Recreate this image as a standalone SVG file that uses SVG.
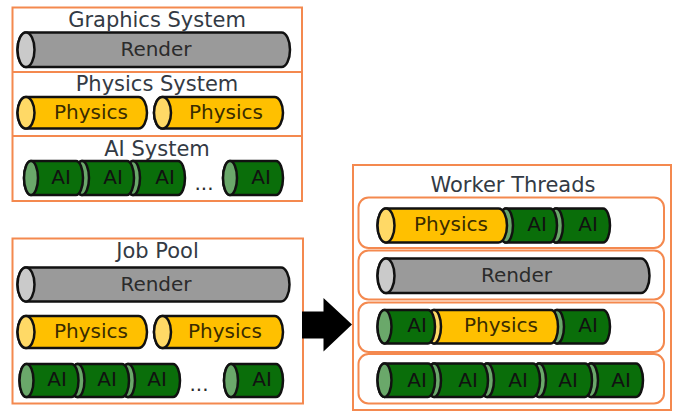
<svg xmlns="http://www.w3.org/2000/svg" width="677" height="416" viewBox="0 0 677 416">
  <style>
    .box { fill: #ffffff; stroke: #f4894f; stroke-width: 2; }
    .div { stroke: #f4894f; stroke-width: 2; }
    .cyl path, .cyl ellipse { stroke: #111111; stroke-width: 2.5; }
    .gray path { fill: #9a9a9a; } .gray ellipse { fill: #cacaca; }
    .gold path { fill: #ffc000; } .gold ellipse { fill: #ffd966; }
    .green path { fill: #0a6e0a; } .green ellipse { fill: #6aa86a; }
    text { font-family: "DejaVu Sans", Verdana, sans-serif; text-anchor: middle; }
    .title { font-size: 21px; fill: #333a44; }
    .lbl { font-size: 20px; fill: #2b2b2b; }
    .gold text { fill: #3a2c00; }
    .green text { fill: #111111; }
  </style>
  <rect width="677" height="416" fill="#ffffff"/>

  <!-- Per-system layout -->
  <g id="systems">
    <rect class="box" x="12.5" y="7.5" width="289.5" height="193.5"/>
    <line class="div" x1="12.5" y1="72" x2="302" y2="72"/>
    <line class="div" x1="12.5" y1="136" x2="302" y2="136"/>
    <text class="title" x="157" y="26.5">Graphics System</text>
    <text class="title" x="157" y="91">Physics System</text>
    <text class="title" x="157" y="156">AI System</text>

    <g id="sys-render" class="cyl gray">
      <path d="M26,32.5 H281.5 A8.5,17.25 0 0 1 281.5,67 H26 A8.5,17.25 0 0 1 26,32.5 Z"/>
      <ellipse cx="26" cy="49.75" rx="8.5" ry="17.25"/>
      <text class="lbl" x="156" y="55.5">Render</text>
    </g>
    <g id="sys-physics-2" class="cyl gold">
      <path d="M162.5,97 H274.5 A8.5,15.75 0 0 1 274.5,128.5 H162.5 A8.5,15.75 0 0 1 162.5,97 Z"/>
      <ellipse cx="162.5" cy="112.75" rx="8.5" ry="15.75"/>
      <text class="lbl" x="226" y="118.5">Physics</text>
    </g>
    <g id="sys-physics-1" class="cyl gold">
      <path d="M26,97 H138.5 A8.5,15.75 0 0 1 138.5,128.5 H26 A8.5,15.75 0 0 1 26,97 Z"/>
      <ellipse cx="26" cy="112.75" rx="8.5" ry="15.75"/>
      <text class="lbl" x="91" y="118.5">Physics</text>
    </g>
    <g id="sys-ai-n" class="cyl green">
      <path d="M230,161 H276 A7,17 0 0 1 276,195 H230 A7,17 0 0 1 230,161 Z"/>
      <ellipse cx="230" cy="178" rx="7" ry="17"/>
      <text class="lbl" x="261" y="184">AI</text>
    </g>
    <g id="sys-ai-3" class="cyl green">
      <path d="M133,161 H178 A7,17 0 0 1 178,195 H133 A7,17 0 0 1 133,161 Z"/>
      <ellipse cx="133" cy="178" rx="7" ry="17"/>
      <text class="lbl" x="165" y="184">AI</text>
    </g>
    <g id="sys-ai-2" class="cyl green">
      <path d="M82,161 H127 A7,17 0 0 1 127,195 H82 A7,17 0 0 1 82,161 Z"/>
      <ellipse cx="82" cy="178" rx="7" ry="17"/>
      <text class="lbl" x="113" y="184">AI</text>
    </g>
    <g id="sys-ai-1" class="cyl green">
      <path d="M31,161 H76 A7,17 0 0 1 76,195 H31 A7,17 0 0 1 31,161 Z"/>
      <ellipse cx="31" cy="178" rx="7" ry="17"/>
      <text class="lbl" x="61" y="184">AI</text>
    </g>
    <text class="lbl" x="204" y="190">...</text>
  </g>

  <!-- Job pool -->
  <g id="job-pool">
    <rect class="box" x="12.5" y="238.5" width="290.5" height="165"/>
    <text class="title" x="157.5" y="258">Job Pool</text>

    <g id="job-render" class="cyl gray">
      <path d="M26,267.5 H281 A8.5,17 0 0 1 281,301.5 H26 A8.5,17 0 0 1 26,267.5 Z"/>
      <ellipse cx="26" cy="284.5" rx="8.5" ry="17"/>
      <text class="lbl" x="156" y="290.5">Render</text>
    </g>
    <g id="job-physics-2" class="cyl gold">
      <path d="M162.5,316 H274.5 A8.5,16 0 0 1 274.5,348 H162.5 A8.5,16 0 0 1 162.5,316 Z"/>
      <ellipse cx="162.5" cy="332" rx="8.5" ry="16"/>
      <text class="lbl" x="225" y="337.5">Physics</text>
    </g>
    <g id="job-physics-1" class="cyl gold">
      <path d="M26,316 H138.5 A8.5,16 0 0 1 138.5,348 H26 A8.5,16 0 0 1 26,316 Z"/>
      <ellipse cx="26" cy="332" rx="8.5" ry="16"/>
      <text class="lbl" x="91" y="337.5">Physics</text>
    </g>
    <g id="job-ai-n" class="cyl green">
      <path d="M231,364 H276 A7,16.5 0 0 1 276,397 H231 A7,16.5 0 0 1 231,364 Z"/>
      <ellipse cx="231" cy="380.5" rx="7" ry="16.5"/>
      <text class="lbl" x="262" y="386">AI</text>
    </g>
    <g id="job-ai-3" class="cyl green">
      <path d="M128,364 H173 A7,16.5 0 0 1 173,397 H128 A7,16.5 0 0 1 128,364 Z"/>
      <ellipse cx="128" cy="380.5" rx="7" ry="16.5"/>
      <text class="lbl" x="157" y="386">AI</text>
    </g>
    <g id="job-ai-2" class="cyl green">
      <path d="M77.5,364 H122 A7,16.5 0 0 1 122,397 H77.5 A7,16.5 0 0 1 77.5,364 Z"/>
      <ellipse cx="77.5" cy="380.5" rx="7" ry="16.5"/>
      <text class="lbl" x="107" y="386">AI</text>
    </g>
    <g id="job-ai-1" class="cyl green">
      <path d="M26.5,364 H71.5 A7,16.5 0 0 1 71.5,397 H26.5 A7,16.5 0 0 1 26.5,364 Z"/>
      <ellipse cx="26.5" cy="380.5" rx="7" ry="16.5"/>
      <text class="lbl" x="57" y="386">AI</text>
    </g>
    <text class="lbl" x="199" y="391">...</text>
  </g>

  <!-- Worker threads -->
  <g id="worker-threads">
    <rect class="box" x="353" y="165" width="318" height="245"/>
    <text class="title" x="513" y="191.5">Worker Threads</text>
    <rect class="box" x="358.5" y="197.5" width="305.5" height="50.5" rx="10"/>
    <rect class="box" x="358.5" y="250.5" width="305.5" height="49" rx="10"/>
    <rect class="box" x="358.5" y="302.5" width="305.5" height="49.5" rx="10"/>
    <rect class="box" x="358.5" y="354" width="305.5" height="49.5" rx="10"/>

    <!-- thread 1 -->
    <g id="t1-ai-2" class="cyl green">
      <path d="M556,208.5 H603 A7,17 0 0 1 603,242.5 H556 A7,17 0 0 1 556,208.5 Z"/>
      <ellipse cx="556" cy="225.5" rx="7" ry="17"/>
      <text class="lbl" x="588" y="231">AI</text>
    </g>
    <g id="t1-ai-1" class="cyl green">
      <path d="M506,208.5 H550 A7,17 0 0 1 550,242.5 H506 A7,17 0 0 1 506,208.5 Z"/>
      <ellipse cx="506" cy="225.5" rx="7" ry="17"/>
      <text class="lbl" x="537" y="231">AI</text>
    </g>
    <g id="t1-physics" class="cyl gold">
      <path d="M386,208.5 H498.5 A8.5,17 0 0 1 498.5,242.5 H386 A8.5,17 0 0 1 386,208.5 Z"/>
      <ellipse cx="386" cy="225.5" rx="8.5" ry="17"/>
      <text class="lbl" x="451" y="231">Physics</text>
    </g>

    <!-- thread 2 -->
    <g id="t2-render" class="cyl gray">
      <path d="M386,258.5 H641 A8.5,17.25 0 0 1 641,293 H386 A8.5,17.25 0 0 1 386,258.5 Z"/>
      <ellipse cx="386" cy="275.75" rx="8.5" ry="17.25"/>
      <text class="lbl" x="516.5" y="282">Render</text>
    </g>

    <!-- thread 3 -->
    <g id="t3-ai-2" class="cyl green">
      <path d="M557,310 H603 A7,16.75 0 0 1 603,343.5 H557 A7,16.75 0 0 1 557,310 Z"/>
      <ellipse cx="557" cy="326.75" rx="7" ry="16.75"/>
      <text class="lbl" x="588" y="332">AI</text>
    </g>
    <g id="t3-physics" class="cyl gold">
      <path d="M434,310 H551 A7,16.75 0 0 1 551,343.5 H434 A7,16.75 0 0 1 434,310 Z"/>
      <ellipse cx="434" cy="326.75" rx="7" ry="16.75"/>
      <text class="lbl" x="501" y="332">Physics</text>
    </g>
    <g id="t3-ai-1" class="cyl green">
      <path d="M384.5,310 H428 A7,16.75 0 0 1 428,343.5 H384.5 A7,16.75 0 0 1 384.5,310 Z"/>
      <ellipse cx="384.5" cy="326.75" rx="7" ry="16.75"/>
      <text class="lbl" x="417" y="332">AI</text>
    </g>

    <!-- thread 4 -->
    <g id="t4-ai-5" class="cyl green">
      <path d="M591,363.5 H636 A7,16.75 0 0 1 636,397 H591 A7,16.75 0 0 1 591,363.5 Z"/>
      <ellipse cx="591" cy="380.25" rx="7" ry="16.75"/>
      <text class="lbl" x="621" y="387">AI</text>
    </g>
    <g id="t4-ai-4" class="cyl green">
      <path d="M539,363.5 H585 A7,16.75 0 0 1 585,397 H539 A7,16.75 0 0 1 539,363.5 Z"/>
      <ellipse cx="539" cy="380.25" rx="7" ry="16.75"/>
      <text class="lbl" x="568" y="387">AI</text>
    </g>
    <g id="t4-ai-3" class="cyl green">
      <path d="M487,363.5 H533 A7,16.75 0 0 1 533,397 H487 A7,16.75 0 0 1 487,363.5 Z"/>
      <ellipse cx="487" cy="380.25" rx="7" ry="16.75"/>
      <text class="lbl" x="518" y="387">AI</text>
    </g>
    <g id="t4-ai-2" class="cyl green">
      <path d="M434,363.5 H481 A7,16.75 0 0 1 481,397 H434 A7,16.75 0 0 1 434,363.5 Z"/>
      <ellipse cx="434" cy="380.25" rx="7" ry="16.75"/>
      <text class="lbl" x="468" y="387">AI</text>
    </g>
    <g id="t4-ai-1" class="cyl green">
      <path d="M384.5,363.5 H428 A7,16.75 0 0 1 428,397 H384.5 A7,16.75 0 0 1 384.5,363.5 Z"/>
      <ellipse cx="384.5" cy="380.25" rx="7" ry="16.75"/>
      <text class="lbl" x="417" y="387">AI</text>
    </g>
  </g>

  <!-- Connectors -->
  <g id="connectors">
    <polygon points="302,311.5 323.5,311.5 323.5,298 352,324.5 323.5,351.5 323.5,338.5 302,338.5" fill="#000000"/>
  </g>
</svg>
